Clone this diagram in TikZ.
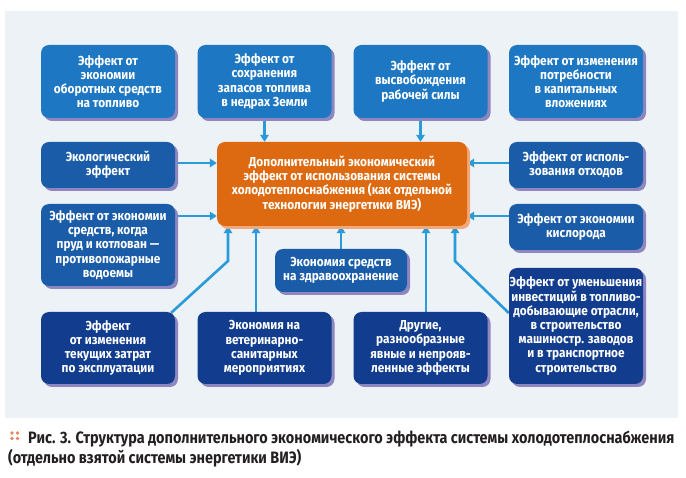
\documentclass[tikz,border=0pt]{standalone}
\usepackage{fontspec}
\setmainfont{Fira Sans}
\newfontfamily\boxfont{Fira Sans}[FakeStretch=0.91]
\newfontfamily\capfont{Fira Sans}[FakeStretch=0.875]
\usetikzlibrary{arrows.meta,shadows,calc}
\definecolor{panelc}{HTML}{EDF2F6}
\definecolor{bluea}{HTML}{1E77C2}
\definecolor{blueb}{HTML}{1A5CA8}
\definecolor{bluec}{HTML}{123D8E}
\definecolor{shadowc}{HTML}{8E86BF}
\definecolor{orangec}{HTML}{DD6A10}
\definecolor{orangesh}{HTML}{F2A878}
\definecolor{arrowc}{HTML}{2A9AD9}
\definecolor{capc}{HTML}{231F20}
\definecolor{dotc}{HTML}{E8855A}
\pgfdeclarelayer{panel}
\pgfdeclarelayer{arrowlayer}
\pgfsetlayers{panel,arrowlayer,main}
\begin{document}
\begin{tikzpicture}[x=1pt,y=-1pt,
  effbox/.style={rounded corners=8pt, text=white,
    font=\boxfont\bfseries\fontsize{13}{14.2}\selectfont, align=center, inner sep=0pt,
    minimum width=134pt,
    drop shadow={shadow xshift=3pt, shadow yshift=-3pt, fill=shadowc, opacity=1}},
  ba/.style={effbox, fill=bluea},
  bb/.style={effbox, fill=blueb},
  bc/.style={effbox, fill=bluec},
  arr/.style={draw=arrowc, line width=2.6pt, -{Triangle[width=8.5pt,length=7pt]}}]
\useasboundingbox (0,0) rectangle (686,478);
\begin{pgfonlayer}{panel}
  \fill[panelc] (5,11) rectangle (678,418);
\end{pgfonlayer}

% row 1
\node[ba, minimum height=73pt] (b1) at (108,81.5) {Эффект от\\экономии\\оборотных средств\\на топливо};
\node[ba, minimum height=73pt] (b2) at (264.5,81.5) {Эффект от\\сохранения\\запасов топлива\\в недрах Земли};
\node[ba, minimum height=73pt] (b3) at (420.5,81.5) {Эффект от\\высвобождения\\рабочей силы};
\node[ba, minimum height=73pt] (b4) at (576,81.5) {Эффект от изменения\\потребности\\в капитальных\\вложениях};

% centre
\node[rounded corners=8pt, fill=orangec, text=white, align=center, inner sep=0pt,
  font=\boxfont\bfseries\fontsize{13}{14.2}\selectfont, minimum width=250pt, minimum height=84pt,
  drop shadow={shadow xshift=3pt, shadow yshift=-3pt, fill=orangesh, opacity=1}]
  (core) at (342,184) {Дополнительный экономический\\эффект от использования системы\\холодотеплоснабжения (как отдельной\\технологии энергетики ВИЭ)};

% side boxes
\node[bb, minimum height=46pt] (eco) at (108,165) {Экологический\\эффект};
\node[bb, minimum height=46pt] (otx) at (576,165) {Эффект от исполь-\\зования отходов};
\node[bb, minimum height=82pt] (prud) at (108,245) {Эффект от экономии\\средств, когда\\пруд и котлован —\\противопожарные\\водоемы};
\node[bb, minimum height=46pt] (kisl) at (576,227) {Эффект от экономии\\кислорода};
\node[bb, minimum width=132pt, minimum height=43pt] (zdr) at (341,270.5) {Экономия средств\\на здравоохранение};

% bottom row
\node[bc, minimum height=72pt] (r4a) at (108,348) {Эффект\\от изменения\\текущих затрат\\по эксплуатации};
\node[bc, minimum height=72pt] (r4b) at (264.5,348) {Экономия на\\ветеринарно-\\санитарных\\мероприятиях};
\node[bc, minimum height=72pt] (r4c) at (420.5,348) {Другие,\\разнообразные\\явные и непрояв-\\ленные эффекты};
\node[bc, minimum height=116pt] (inv) at (576,326) {Эффект от уменьшения\\инвестиций в топливо-\\добывающие отрасли,\\в строительство\\машиностр. заводов\\и в транспортное\\строительство};

% helper coordinates
\coordinate (y216) at (0,216);
\coordinate (y163) at (0,163);
\coordinate (k1) at (228,261);
\coordinate (k2) at (455,261);
\coordinate (x256) at (256,0);
\coordinate (x426) at (426,0);

\begin{pgfonlayer}{arrowlayer}
  \draw[arr] (b2.south) -- (b2.south |- core.north);
  \draw[arr] (b3.south) -- (b3.south |- core.north);
  \draw[arr] (eco.east |- y163) -- (core.west |- y163);
  \draw[arr] (prud.east |- y216) -- (core.west |- y216);
  \draw[arr] (otx.west |- y163) -- (core.east |- y163);
  \draw[arr] (kisl.west |- y216) -- (core.east |- y216);
  \draw[arr] ([xshift=-4pt,yshift=-1pt]r4a.north east) -- (k1) -- (k1 |- core.south);
  \draw[arr] (x256 |- r4b.north) -- (x256 |- core.south);
  \draw[arr] (zdr.north) -- (zdr.north |- core.south);
  \draw[arr] (x426 |- r4c.north) -- (x426 |- core.south);
  \draw[arr] ([yshift=13pt]inv.west) -- (k2) -- (k2 |- core.south);
\end{pgfonlayer}

% caption
\foreach \dx/\dy [count=\i] in {0/0,5.5/0,0/5.5,5.5/5.5}
  \fill[dotc] (12+\dx,433+\dy) circle (1.9);
\node[anchor=base west, inner sep=0pt, text=capc, font=\capfont\bfseries\fontsize{16.5}{21}\selectfont] (cap1) at (28,443)
  {Рис. 3. Структура дополнительного экономического эффекта системы холодотеплоснабжения};
\node[anchor=base west, inner sep=0pt, text=capc, font=\capfont\bfseries\fontsize{16.5}{21}\selectfont] (cap2) at (8,464)
  {(отдельно взятой системы энергетики ВИЭ)};
\end{tikzpicture}
\end{document}
